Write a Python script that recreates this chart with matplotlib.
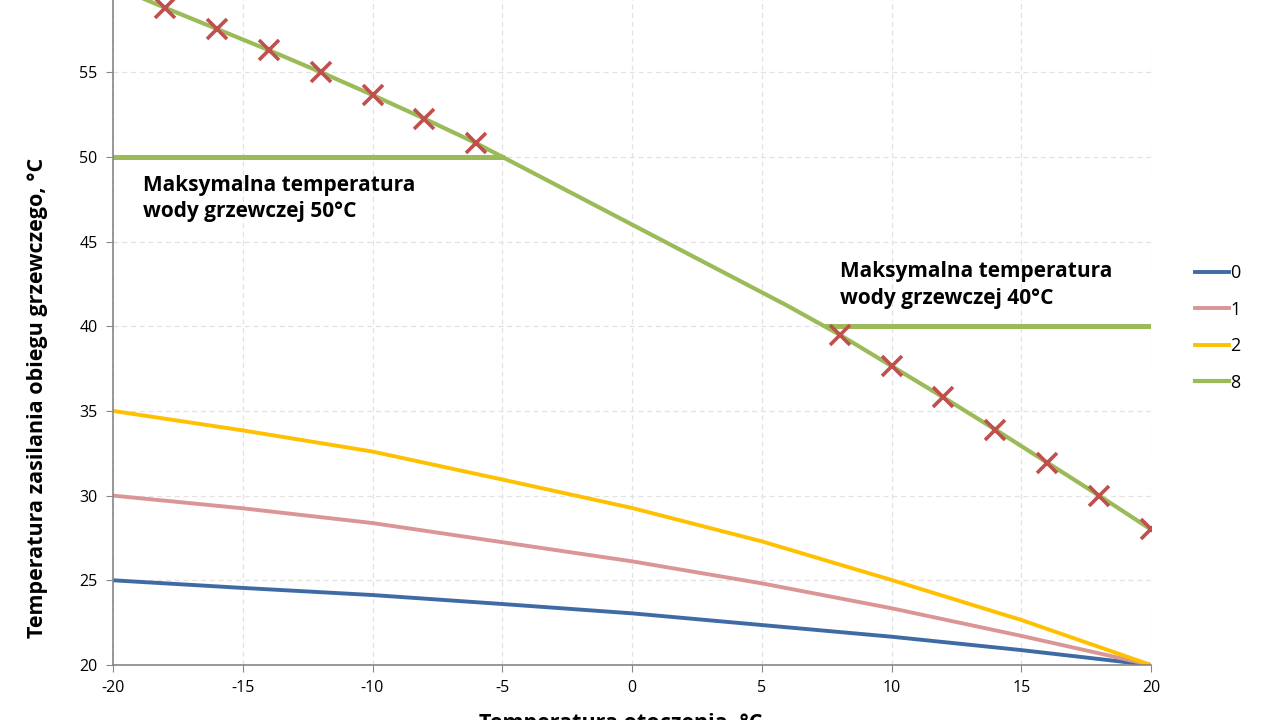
import matplotlib
matplotlib.use("Agg")
import matplotlib.pyplot as plt

plt.rcParams['font.family'] = ['Open Sans', 'DejaVu Sans']
plt.rcParams['axes.unicode_minus'] = False

# outdoor temperature, heating curves 0 / 1 / 2
x_curve = [-20, -15, -10, -5, 0, 5, 10, 15, 20]
curve_0 = [25.0, 24.55, 24.13, 23.6, 23.05, 22.36, 21.67, 20.88, 20.0]
curve_1 = [30.0, 29.25, 28.38, 27.25, 26.12, 24.82, 23.35, 21.72, 20.0]
curve_2 = [35.0, 33.85, 32.6, 30.95, 29.27, 27.3, 25.02, 22.66, 20.0]

# heating curve 8
x_curve8 = [-20, -18, -16, -14, -12, -10, -8, -6, -5, -4, -2, 0, 2, 4, 6, 8, 10, 12, 14, 16, 18, 20]
curve_8 = [60.1, 58.8, 57.55, 56.3, 55.0, 53.65, 52.25, 50.8, 50.0, 49.2, 47.6, 46.0, 44.4, 42.8, 41.2,
           39.5, 37.65, 35.8, 33.9, 31.95, 30.0, 28.0]

# points beyond the max supply temperature
x_cross = [-18, -16, -14, -12, -10, -8, -6, 8, 10, 12, 14, 16, 18, 20]
y_cross = [58.8, 57.55, 56.3, 55.0, 53.65, 52.25, 50.8, 39.5, 37.65, 35.8, 33.9, 31.95, 30.0, 28.0]

# max supply temperature limits
limit50_x = [-20, -5]
limit50_y = [50, 50]
limit40_x = [7.5, 20]
limit40_y = [40, 40]

fig = plt.figure(figsize=(12.8, 7.2), dpi=100)
ax = fig.add_axes([113 / 1280, 55 / 720, 1038 / 1280, 762.3 / 720])

ax.plot(x_curve, curve_0, color="#3F6BA5", lw=2.8, label="0")
ax.plot(x_curve, curve_1, color="#D99694", lw=2.8, label="1")
ax.plot(x_curve, curve_2, color="#FFC000", lw=2.8, label="2")
ax.plot(x_curve8, curve_8, color="#9BBB59", lw=3.0, label="8")
ax.plot(limit50_x, limit50_y, color="#9BBB59", lw=3.6)
ax.plot(limit40_x, limit40_y, color="#9BBB59", lw=3.6)
ax.plot(x_cross, y_cross, ls="none", marker="x", ms=14, mew=2.6, color="#C0504D")

ax.set_xlim(-20, 20)
ax.set_ylim(20, 65)
ax.set_xticks(range(-20, 21, 5))
ax.set_yticks(range(20, 56, 5))
ax.grid(True, color="#E2E2E2", ls=(0, (4, 3)), lw=0.9)
ax.set_axisbelow(True)

for s in ["top", "right"]:
    ax.spines[s].set_visible(False)
for s in ["left", "bottom"]:
    ax.spines[s].set_color("#868686")
    ax.spines[s].set_linewidth(1.2)
ax.tick_params(direction="out", length=5, color="#868686", labelsize=11.5, pad=6)

ax.text(-18.85, 48.95, "Maksymalna temperatura\nwody grzewczej 50°C",
        fontsize=15, fontweight="bold", va="top", ha="left", linespacing=1.35)
ax.text(8.0, 43.85, "Maksymalna temperatura\nwody grzewczej 40°C",
        fontsize=15, fontweight="bold", va="top", ha="left", linespacing=1.35)

fig.text(38 / 1280, 1 - 398 / 720, "Temperatura zasilania obiegu grzewczego, °C",
         rotation=90, fontsize=15.5, fontweight="bold", ha="center", va="center")
fig.text(621 / 1280, 1 - 713 / 720, "Temperatura otoczenia, °C",
         fontsize=15.5, fontweight="bold", ha="center", va="top")

leg = fig.legend(loc="upper left", bbox_to_anchor=(1179 / 1280, 1 - 248 / 720),
                 frameon=False, fontsize=13, handlelength=1.85, handletextpad=0.1,
                 labelspacing=1.02)

fig.savefig("out.png", dpi=100)
